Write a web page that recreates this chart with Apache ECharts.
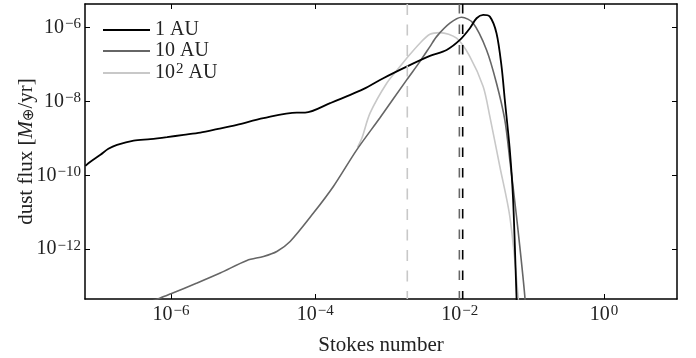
<!DOCTYPE html>
<html>
<head>
<meta charset="utf-8">
<script src="https://cdn.jsdelivr.net/npm/echarts@6/dist/echarts.min.js"></script>
<style>
  html, body { margin: 0; padding: 0; background: #fff; }
  #chart { width: 696px; height: 358px; }
</style>
</head>
<body>
<div id="chart"></div>
<script>
// values, as log10(Stokes number) and log10(dust flux)
var st1AU = [-7.184, -7.115, -6.976, -6.866, -6.746, -6.516, -6.285, -6.054, -5.824, -5.593, -5.362, -5.086,
             -4.718, -4.256, -4.141, -3.795, -3.335, -3.058, -2.734, -2.412, -2.181, -1.997, -1.859,
             -1.766, -1.675, -1.582, -1.490, -1.420, -1.375, -1.306, -1.260, -1.213, -1.201];
var flux1AU = [-9.743, -9.635, -9.445, -9.283, -9.175, -9.058, -9.020, -8.966, -8.904, -8.842, -8.750, -8.633,
               -8.452, -8.300, -8.300, -8.046, -7.667, -7.369, -7.055, -6.766, -6.604, -6.333, -6.016,
               -5.746, -5.656, -5.702, -6.152, -7.055, -7.957, -9.310, -10.663, -13.29, -14.0];

var st10AU = [-6.285, -6.147, -6.0, -5.639, -5.317, -4.947, -4.718, -4.533, -4.349, -4.026, -3.750, -3.426,
              -3.104, -2.734, -2.551, -2.412, -2.320, -2.136, -1.974, -1.813, -1.628, -1.490, -1.375,
              -1.306, -1.213, -1.098, -1.084];
var flux10AU = [-13.42, -13.323, -13.207, -12.917, -12.647, -12.306, -12.198, -12.062, -11.792, -11.023, -10.303, -9.310,
                -8.440, -7.415, -6.920, -6.514, -6.244, -5.881, -5.719, -5.881, -6.604, -7.505, -8.498,
                -9.580, -11.115, -13.280, -14.05];

var st100AU = [-3.415, -3.353, -3.242, -3.011, -2.827, -2.734, -2.551, -2.412, -2.274, -2.043, -1.859, -1.675,
               -1.582, -1.444, -1.306, -1.191, -1.177];
var flux100AU = [-9.242, -8.985, -8.317, -7.505, -7.055, -6.828, -6.422, -6.180, -6.135, -6.287, -6.785, -7.597,
                 -8.409, -9.762, -11.115, -13.280, -14.05];

// vertical dashed markers (Stokes number)
var cutoff1AU = 1.1e-2;
var cutoff10AU = 0.99e-2;
var cutoff100AU = 1.88e-3;

var seriesNames = ['1 AU', '10 AU', '100 AU'];
var xTicks = [1e-6, 1e-4, 1e-2, 1e0];
var yTicks = [1e-12, 1e-10, 1e-8, 1e-6];

var X_MIN = Math.pow(10, -7.19), X_MAX = Math.pow(10, 1.01);
var Y_MIN = Math.pow(10, -13.35), Y_MAX = Math.pow(10, -5.36);

function toPoints(xs, ys) {
    return xs.map(function (x, i) { return [Math.pow(10, x), Math.pow(10, ys[i])]; });
}

function powLabel(v) {
    var e = Math.round(Math.log10(v));
    return '{b|10}{s|' + String(e).replace('-', '\u2212') + '}';
}

var FONT = '"Liberation Serif", "DejaVu Serif", serif';
var rich = {
    b: { fontFamily: FONT, fontSize: 20, lineHeight: 22, color: '#222' },
    s: { fontFamily: FONT, fontSize: 15, lineHeight: 13, color: '#222', verticalAlign: 'top', padding: [0, 0, 0, 1] }
};

function makeAxis(kind, pos, showLabels) {
    var ticks = kind === 'x' ? xTicks : yTicks;
    return {
        type: 'log',
        position: pos,
        min: kind === 'x' ? X_MIN : Y_MIN,
        max: kind === 'x' ? X_MAX : Y_MAX,
        axisLine: { show: true, onZero: false, lineStyle: { color: '#000', width: 1.5 } },
        axisTick: { show: true, inside: true, length: 5, customValues: ticks, lineStyle: { color: '#000', width: 1 } },
        axisLabel: {
            show: showLabels, customValues: ticks, margin: kind === 'x' ? 5 : 4,
            formatter: powLabel, rich: rich
        },
        splitLine: { show: false },
        minorTick: { show: false }
    };
}

var chart = echarts.init(document.getElementById('chart'));

var xBottom = makeAxis('x', 'bottom', true);
xBottom.name = 'Stokes number';
xBottom.nameLocation = 'middle';
xBottom.nameGap = 36;
xBottom.nameMoveOverlap = false;
xBottom.nameTextStyle = { fontFamily: FONT, fontSize: 21, color: '#222' };

var yLeft = makeAxis('y', 'left', true);
yLeft.name = 'dust flux [{i|M}{o|\u2295}/yr]';
yLeft.nameLocation = 'middle';
yLeft.nameGap = 48;
yLeft.nameMoveOverlap = false;
yLeft.nameTextStyle = {
    fontFamily: FONT, fontSize: 21, color: '#222',
    rich: {
        i: { fontFamily: FONT, fontSize: 21, fontStyle: 'italic', color: '#222' },
        o: { fontFamily: 'DejaVu Sans', fontSize: 15, color: '#222', verticalAlign: 'bottom' }
    }
};

function dashedLine(x, color, dash) {
    return {
        type: 'line', symbol: 'none', silent: true, z: 10,
        data: [[x, Y_MAX], [x, Y_MIN]],
        lineStyle: { color: color, width: 1.6, type: dash }
    };
}

function curve(name, xs, ys, color, width) {
    return {
        name: name, type: 'line', symbol: 'none', smooth: 0.3,
        data: toPoints(xs, ys),
        lineStyle: { color: color, width: width }, itemStyle: { color: color }
    };
}

var option = {
    animation: false,
    grid: { left: 85, top: 4, right: 19, bottom: 59, containLabel: false, outerBoundsMode: 'none' },
    legend: {
        orient: 'vertical',
        left: 98,
        top: 15,
        icon: 'path://M0,0H47V2H0Z',
        itemWidth: 47,
        itemHeight: 2,
        itemGap: 1,
        data: seriesNames,
        formatter: function (name) {
            return name === '100 AU' ? '{b|10}{s|2}{b| AU}' : '{b|' + name + '}';
        },
        textStyle: { rich: rich }
    },
    xAxis: [xBottom, makeAxis('x', 'top', false)],
    yAxis: [yLeft, makeAxis('y', 'right', false)],
    series: [
        curve('100 AU', st100AU, flux100AU, '#c8c8c8', 1.6),
        curve('10 AU', st10AU, flux10AU, '#666', 1.6),
        curve('1 AU', st1AU, flux1AU, '#000', 1.8),
        dashedLine(cutoff100AU, '#c8c8c8', [11, 9.5]),
        dashedLine(cutoff10AU, '#666', [9.5, 11]),
        dashedLine(cutoff1AU, '#000', [9.5, 11])
    ]
};

chart.setOption(option);
</script>
</body>
</html>
